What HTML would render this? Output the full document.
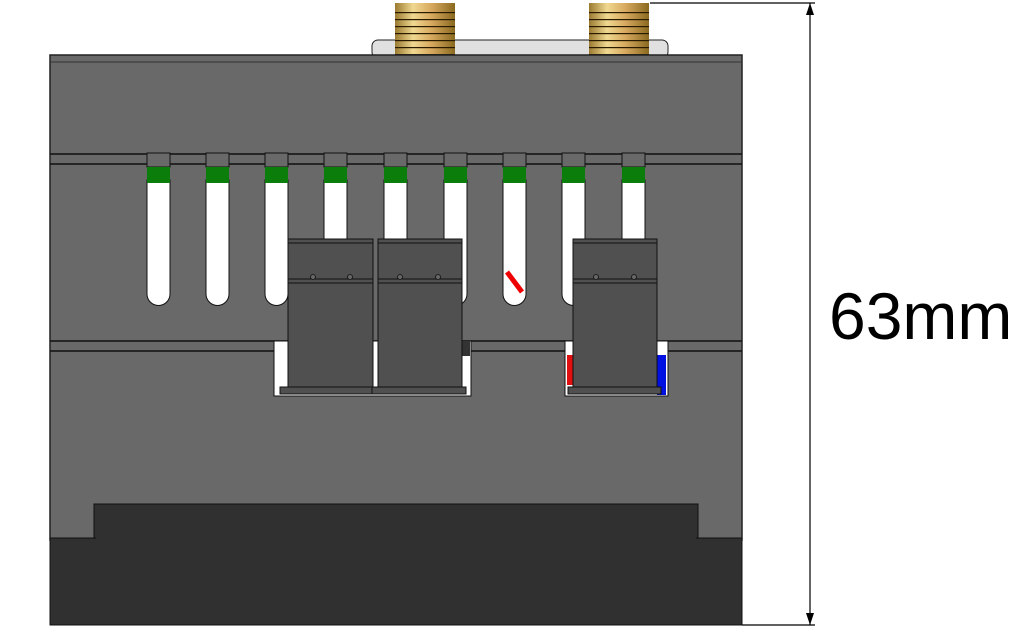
<!DOCTYPE html>
<html><head><meta charset="utf-8"><style>
html,body{margin:0;padding:0;background:#fff;}
svg{display:block;}
</style></head><body>
<svg width="1015" height="633" viewBox="0 0 1015 633" xmlns="http://www.w3.org/2000/svg">
<defs>
<linearGradient id="gold" x1="0" x2="1" y1="0" y2="0">
<stop offset="0" stop-color="#9a7a30"/><stop offset="0.3" stop-color="#f0d890"/><stop offset="0.6" stop-color="#d8aa60"/><stop offset="1" stop-color="#8a6a20"/>
</linearGradient>
<pattern id="thread" width="4" height="7" patternUnits="userSpaceOnUse">
<rect y="5" width="4" height="1.2" fill="#2a1a00"/>
</pattern>
</defs>
<rect x="372" y="40" width="296" height="18" rx="6" fill="#e0e0e0" stroke="#222" stroke-width="1"/>
<rect x="395" y="3" width="60" height="55" fill="url(#gold)"/>
<rect x="395" y="12" width="60" height="44" fill="url(#thread)"/>
<rect x="589" y="3" width="60" height="55" fill="url(#gold)"/>
<rect x="589" y="12" width="60" height="44" fill="url(#thread)"/>
<rect x="50" y="55" width="692" height="485" fill="#696969" stroke="#222" stroke-width="1.5"/>
<line x1="50" y1="62" x2="742" y2="62" stroke="#333"/>
<line x1="50" y1="154" x2="742" y2="154" stroke="#111" stroke-width="1.5"/>
<line x1="50" y1="164" x2="742" y2="164" stroke="#111" stroke-width="1.5"/>
<g>
<g id="s1">
<path d="M147 180 V294 A11.5 11.5 0 0 0 170 294 V180 Z" fill="#fff" stroke="#111"/>
<rect x="147" y="153" width="23" height="14" fill="#696969" stroke="#111"/>
<rect x="147" y="167" width="23" height="16" fill="#0a7d0a"/>
</g>
<use href="#s1" x="59"/><use href="#s1" x="118"/><use href="#s1" x="177"/><use href="#s1" x="237"/><use href="#s1" x="297"/><use href="#s1" x="356"/><use href="#s1" x="415"/><use href="#s1" x="475"/>
</g>
<line x1="507" y1="272" x2="522" y2="292" stroke="#e00" stroke-width="5"/>
<line x1="50" y1="341" x2="742" y2="341" stroke="#111" stroke-width="1.5"/>
<line x1="50" y1="351" x2="742" y2="351" stroke="#111" stroke-width="1.5"/>
<rect x="274" y="341" width="197" height="55" fill="#fff" stroke="#111"/>
<rect x="565" y="341" width="103" height="55" fill="#fff" stroke="#111"/>
<rect x="657" y="355" width="9" height="40" fill="#0010e0"/>
<rect x="567" y="355" width="6" height="30" fill="#e01010"/>
<rect x="462" y="341" width="8" height="15" fill="#333"/>
<g fill="#505050" stroke="#111" stroke-width="1">
<rect x="288" y="239" width="85" height="150"/>
<rect x="378" y="239" width="84" height="150"/>
<rect x="573" y="239" width="84" height="150"/>
<rect x="280" y="387" width="92" height="7"/>
<rect x="372" y="387" width="94" height="7"/>
<rect x="568" y="387" width="93" height="7"/>
</g>
<g stroke="#111" stroke-width="1">
<line x1="288" y1="243" x2="373" y2="243"/><line x1="288" y1="279" x2="373" y2="279"/><line x1="288" y1="283" x2="373" y2="283"/>
<line x1="378" y1="243" x2="462" y2="243"/><line x1="378" y1="279" x2="462" y2="279"/><line x1="378" y1="283" x2="462" y2="283"/>
<line x1="573" y1="243" x2="657" y2="243"/><line x1="573" y1="279" x2="657" y2="279"/><line x1="573" y1="283" x2="657" y2="283"/>
</g>
<g fill="#666" stroke="#111" stroke-width="0.8">
<circle cx="313" cy="277" r="2.5"/><circle cx="350" cy="277" r="2.5"/>
<circle cx="400" cy="277" r="2.5"/><circle cx="438" cy="277" r="2.5"/>
<circle cx="596" cy="277" r="2.5"/><circle cx="634" cy="277" r="2.5"/>
</g>
<rect x="94" y="504" width="604" height="40" fill="#303030" stroke="#111"/>
<rect x="50" y="538" width="692" height="87" fill="#303030" stroke="#111"/>
<rect x="96" y="530" width="600" height="12" fill="#303030"/>
<g stroke="#000" stroke-width="1.2">
<line x1="650" y1="3" x2="815" y2="3"/>
<line x1="742" y1="625" x2="815" y2="625"/>
<line x1="810" y1="3" x2="810" y2="625"/>
</g>
<polygon points="810,3 806,15 814,15" fill="#000"/>
<polygon points="810,625 806,613 814,613" fill="#000"/>
<text x="829" y="339" font-family="Liberation Sans, Arial, sans-serif" font-size="66" fill="#000">63mm</text>
</svg>
</body></html>
